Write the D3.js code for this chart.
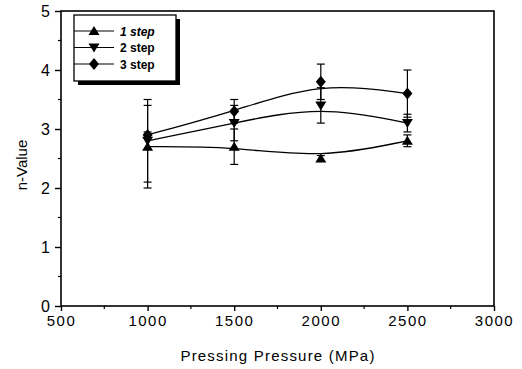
<html>
<head>
<meta charset="utf-8">
<script src="https://d3js.org/d3.v7.min.js"></script>
<style>
body { margin: 0; background: #fff; }
text { font-family: Arial, "Liberation Sans", sans-serif; fill: #000; }
</style>
</head>
<body>
<svg id="page"></svg>
<script>
// data
var pressures = [1000, 1500, 2000, 2500];
var seriesNames = ["1 step", "2 step", "3 step"];
var step1 = [2.7, 2.7, 2.5, 2.8];
var step1Err = [0.7, 0.3, 0.05, 0.1];
var step2 = [2.8, 3.1, 3.4, 3.1];
var step2Err = [0.7, 0.3, 0.3, 0.15];
var step3 = [2.9, 3.3, 3.8, 3.6];
var step3Err = [0.05, 0.2, 0.3, 0.4];
var xTicks = [500, 1000, 1500, 2000, 2500, 3000];
var yTicks = [0, 1, 2, 3, 4, 5];

var W = 522, H = 369;
var svg = d3.select("#page").attr("width", W).attr("height", H);

var x = d3.scaleLinear().domain([500, 3000]).range([61, 494]);
var y = d3.scaleLinear().domain([0, 5]).range([306, 11]);

// frame
svg.append("rect")
	.attr("x", 61).attr("y", 11)
	.attr("width", 433).attr("height", 295)
	.attr("fill", "none").attr("stroke", "#000").attr("stroke-width", 1.6);

// minor ticks
var xMinor = d3.range(750, 3000, 500);
var yMinor = d3.range(0.5, 5, 1);
svg.selectAll(".xminor").data(xMinor).enter().append("line")
	.attr("x1", d => x(d)).attr("x2", d => x(d))
	.attr("y1", 306).attr("y2", 309)
	.attr("stroke", "#000").attr("stroke-width", 1.2);
svg.selectAll(".yminor").data(yMinor).enter().append("line")
	.attr("x1", 58).attr("x2", 61)
	.attr("y1", d => y(d)).attr("y2", d => y(d))
	.attr("stroke", "#000").attr("stroke-width", 1.2);

// axes
var xAxis = d3.axisBottom(x).tickValues(xTicks).tickFormat(d3.format("d")).tickSize(5).tickPadding(4);
var gx = svg.append("g").attr("transform", "translate(0,306)").call(xAxis);
gx.select(".domain").remove();
gx.selectAll("line").attr("stroke-width", 1.4);
gx.selectAll("text").style("font-size", "15px").style("letter-spacing", "1.5px");

var yAxis = d3.axisLeft(y).tickValues(yTicks).tickFormat(d3.format("d")).tickSize(6).tickPadding(5);
var gy = svg.append("g").attr("transform", "translate(61,0)").call(yAxis);
gy.select(".domain").remove();
gy.selectAll("line").attr("stroke-width", 1.4);
gy.selectAll("text").style("font-size", "16px");

// axis titles
svg.append("text")
	.attr("x", 278).attr("y", 361)
	.attr("text-anchor", "middle")
	.style("font-size", "15px").style("letter-spacing", "1.2px")
	.text("Pressing Pressure (MPa)");
svg.append("text")
	.attr("transform", "translate(27,165) rotate(-90)")
	.attr("text-anchor", "middle")
	.style("font-size", "15px")
	.text("n-Value");

var series = [
	{ name: seriesNames[0], values: step1, err: step1Err, sym: "up" },
	{ name: seriesNames[1], values: step2, err: step2Err, sym: "down" },
	{ name: seriesNames[2], values: step3, err: step3Err, sym: "diamond" }
];

function symbolPath(sym) {
	if (sym == "up") return "M0,-5L5.5,4L-5.5,4Z";
	if (sym == "down") return "M0,5L5.5,-4L-5.5,-4Z";
	return "M0,-6L5,0L0,6L-5,0Z";
}

var line = d3.line()
	.x(d => x(d[0])).y(d => y(d[1]))
	.curve(d3.curveBasis);

series.forEach(function(s) {
	var pts = pressures.map((p, i) => [p, s.values[i], s.err[i]]);
	svg.append("path")
		.attr("d", line(pts))
		.attr("fill", "none").attr("stroke", "#000").attr("stroke-width", 1.3);

	// error bars
	var g = svg.append("g");
	pts.forEach(function(d) {
		var cx = x(d[0]);
		g.append("line")
			.attr("x1", cx).attr("x2", cx)
			.attr("y1", y(d[1] - d[2])).attr("y2", y(d[1] + d[2]))
			.attr("stroke", "#000").attr("stroke-width", 1.2);
		[d[1] - d[2], d[1] + d[2]].forEach(function(v) {
			g.append("line")
				.attr("x1", cx - 4).attr("x2", cx + 4)
				.attr("y1", y(v)).attr("y2", y(v))
				.attr("stroke", "#000").attr("stroke-width", 1.2);
		});
	});

	svg.selectAll(null).data(pts).enter().append("path")
		.attr("transform", d => "translate(" + x(d[0]) + "," + y(d[1]) + ")")
		.attr("d", symbolPath(s.sym))
		.attr("fill", "#000");
});

// legend
var lg = svg.append("g");
lg.append("rect").attr("x", 78).attr("y", 19).attr("width", 102).attr("height", 66).attr("fill", "#000");
lg.append("rect").attr("x", 74).attr("y", 15).attr("width", 102).attr("height", 66)
	.attr("fill", "#fff").attr("stroke", "#000").attr("stroke-width", 1.3);
series.forEach(function(s, i) {
	var ly = 31 + i * 16.5;
	lg.append("line").attr("x1", 74).attr("x2", 114).attr("y1", ly).attr("y2", ly)
		.attr("stroke", "#000").attr("stroke-width", 1.2);
	lg.append("path").attr("transform", "translate(94," + ly + ")")
		.attr("d", symbolPath(s.sym)).attr("fill", "#000");
	lg.append("text").attr("x", 120).attr("y", ly + 4.5)
		.style("font-size", "12px").style("font-weight", "bold")
		.style("font-style", i == 0 ? "italic" : "normal")
		.text(s.name);
});
</script>
</body>
</html>
